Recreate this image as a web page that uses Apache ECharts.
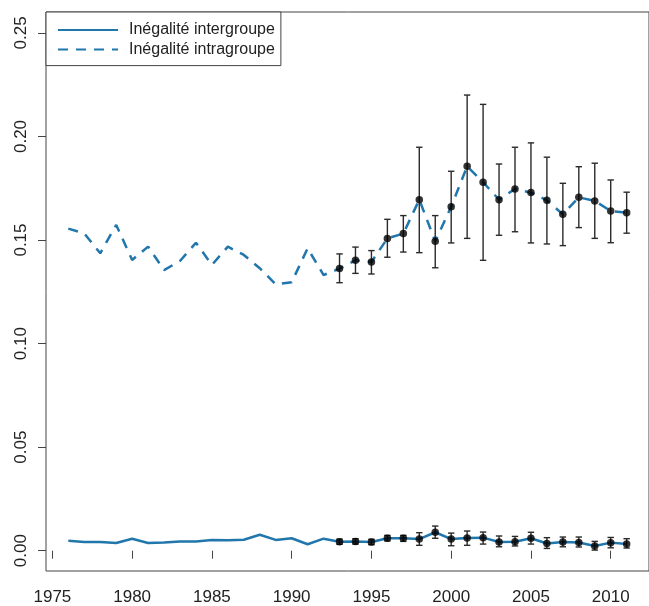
<!DOCTYPE html>
<html>
<head>
<meta charset="utf-8">
<script src="https://cdn.jsdelivr.net/npm/echarts@6/dist/echarts.min.js"></script>
<style>
html,body{margin:0;padding:0;background:#fff;}
#chart{width:649px;height:606px;}
</style>
</head>
<body>
<div id="chart"></div>
<script>
// ---- data ----
var years = [1976,1977,1978,1979,1980,1981,1982,1983,1984,1985,1986,1987,1988,1989,1990,1991,1992,
             1993,1994,1995,1996,1997,1998,1999,2000,2001,2002,2003,2004,2005,2006,2007,2008,2009,2010,2011];
var intra = [0.1555,0.1532,0.1436,0.1573,0.1404,0.1468,0.1355,0.1399,0.1487,0.1380,0.1468,0.1428,0.1364,0.1286,0.1296,0.1460,0.1331,
             0.1362,0.1402,0.1394,0.1508,0.1531,0.1695,0.1494,0.1661,0.1856,0.1779,0.1695,0.1747,0.1729,0.1692,0.1624,0.1706,0.1689,0.1640,0.1632];
var inter = [0.0048,0.0042,0.0042,0.0037,0.0058,0.0037,0.0040,0.0045,0.0045,0.0052,0.0050,0.0053,0.0077,0.0052,0.0060,0.0031,0.0058,
             0.0043,0.0045,0.0042,0.0060,0.0060,0.0056,0.0089,0.0056,0.0061,0.0063,0.0042,0.0043,0.0060,0.0035,0.0042,0.0040,0.0023,0.0039,0.0032];
var ciYears = [1993,1994,1995,1996,1997,1998,1999,2000,2001,2002,2003,2004,2005,2006,2007,2008,2009,2010,2011];
var intraLow  = [0.1294,0.1339,0.1336,0.1417,0.1442,0.1439,0.1366,0.1486,0.1508,0.1402,0.1523,0.1540,0.1486,0.1481,0.1473,0.1560,0.1508,0.1487,0.1533];
var intraHigh = [0.1433,0.1466,0.1449,0.1600,0.1618,0.1948,0.1618,0.1832,0.2200,0.2155,0.1867,0.1948,0.1969,0.1900,0.1774,0.1854,0.1871,0.1790,0.1731];
var interLow  = [0.0031,0.0032,0.0029,0.0047,0.0045,0.0026,0.0060,0.0024,0.0026,0.0032,0.0019,0.0023,0.0032,0.0011,0.0019,0.0018,0.0003,0.0014,0.0013];
var interHigh = [0.0056,0.0058,0.0055,0.0074,0.0074,0.0087,0.0119,0.0085,0.0095,0.0090,0.0071,0.0069,0.0089,0.0063,0.0066,0.0066,0.0045,0.0064,0.0058];
var xTicks = [1975,1980,1985,1990,1995,2000,2005,2010];
var yTicks = [0,0.05,0.10,0.15,0.20,0.25];
var nameInter = 'Inégalité intergroupe';
var nameIntra = 'Inégalité intragroupe';

// ---- build ----
var FONT = 'Liberation Sans, Arial, sans-serif';
var BLUE = '#2176ab';
function pairs(xs, ys){ return xs.map(function(x,i){ return [x, ys[i]]; }); }
function ciData(lowArr, highArr){ return ciYears.map(function(y,i){ return [y, lowArr[i], highArr[i]]; }); }
function ciPoints(vals){
  return ciYears.map(function(y){ return [y, vals[years.indexOf(y)]]; });
}
function renderErr(params, api){
  var x = api.value(0);
  var lo = api.coord([x, api.value(1)]);
  var hi = api.coord([x, api.value(2)]);
  var w = 3.2;
  var st = {stroke:'#2a2a2a', lineWidth:1.4};
  return {type:'group', children:[
    {type:'line', shape:{x1:lo[0],y1:lo[1],x2:hi[0],y2:hi[1]}, style:st},
    {type:'line', shape:{x1:lo[0]-w,y1:lo[1],x2:lo[0]+w,y2:lo[1]}, style:st},
    {type:'line', shape:{x1:hi[0]-w,y1:hi[1],x2:hi[0]+w,y2:hi[1]}, style:st}
  ]};
}

var chart = echarts.init(document.getElementById('chart'), null, {renderer:'canvas'});
chart.setOption({
  animation:false,
  backgroundColor:'#fff',
  grid:{left:46, right:-8, top:12, bottom:35, show:true, borderColor:'#444', borderWidth:1, containLabel:false},
  legend:{
    left:46, top:12, orient:'vertical',
    data:[nameInter, nameIntra],
    itemWidth:60, itemHeight:14, itemGap:3.6,
    padding:[10,6,8,11],
    borderColor:'#444', borderWidth:1, backgroundColor:'#fff',
    itemStyle:{opacity:0},
    textStyle:{fontFamily:FONT, fontSize:16, color:'#222', padding:[0,0,0,6]},
    selectedMode:false
  },
  xAxis:{
    type:'value', min:1974.6, max:2012.4,
    splitLine:{show:false},
    axisLine:{show:false},
    axisTick:{show:true, length:8, lineStyle:{color:'#444'}, customValues:xTicks},
    axisLabel:{show:true, margin:18, fontFamily:FONT, fontSize:17, color:'#222', customValues:xTicks,
      formatter:function(v){ return String(Math.round(v)); }}
  },
  yAxis:{
    type:'value', min:-0.0098, max:0.2601,
    splitLine:{show:false},
    axisLine:{show:false},
    axisTick:{show:true, length:8, lineStyle:{color:'#444'}, customValues:yTicks},
    axisLabel:{show:true, rotate:90, margin:16, fontFamily:FONT, fontSize:17, color:'#222', customValues:yTicks,
      formatter:function(v){ return v.toFixed(2); }}
  },
  series:[
    {name:nameInter, type:'line', data:pairs(years, inter), symbol:'none', z:2,
      lineStyle:{color:BLUE, width:2.5, type:'solid'}, itemStyle:{color:BLUE}},
    {name:nameIntra, type:'line', data:pairs(years, intra), symbol:'none', z:2,
      lineStyle:{color:BLUE, width:2.5, type:[10,8]}, itemStyle:{color:BLUE}},
    {type:'custom', data:ciData(intraLow, intraHigh), renderItem:renderErr, z:3, encode:{x:0,y:[1,2]}},
    {type:'custom', data:ciData(interLow, interHigh), renderItem:renderErr, z:3, encode:{x:0,y:[1,2]}},
    {type:'scatter', data:ciPoints(intra), symbol:'circle', symbolSize:7.5, itemStyle:{color:'#000'}, z:4},
    {type:'scatter', data:ciPoints(inter), symbol:'circle', symbolSize:7.5, itemStyle:{color:'#000'}, z:4}
  ]
});
</script>
</body>
</html>
